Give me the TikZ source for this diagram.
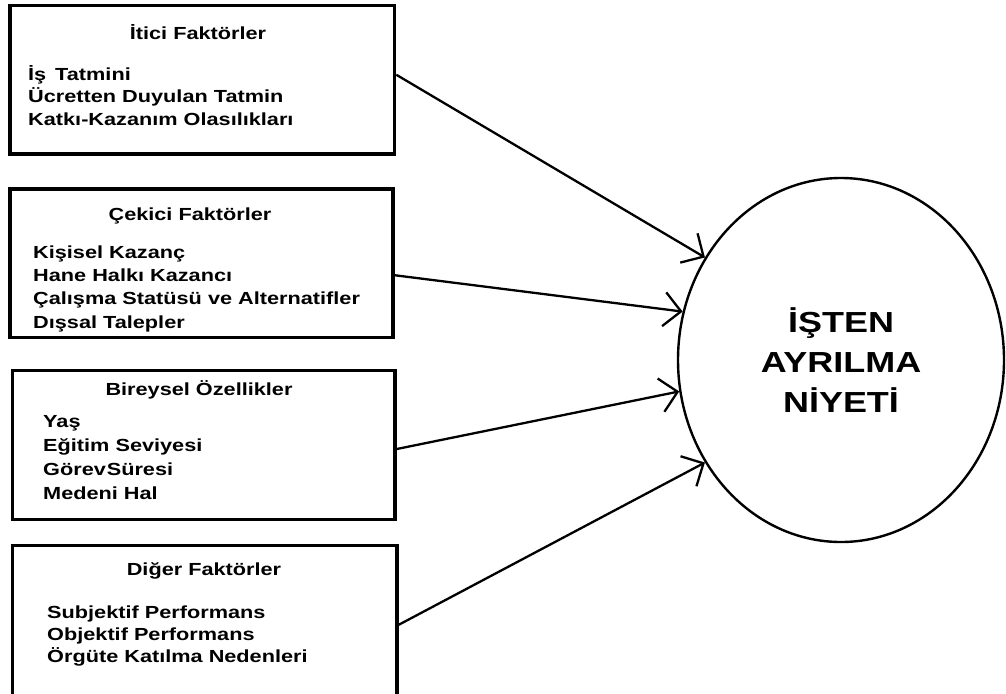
\documentclass[tikz,border=0pt]{standalone}
\usepackage{fontspec}
\setmainfont{Liberation Sans}[FakeStretch=1.24]
\usetikzlibrary{shapes.geometric,arrows.meta}

\begin{document}
\begin{tikzpicture}[x=1pt,y=-1pt,
                kutu/.style={draw, line width=3.6pt, inner sep=0pt},
                baslik/.style={font=\bfseries\fontsize{17.5}{21}\selectfont, inner sep=0pt, anchor=base},
                madde/.style={font=\bfseries\fontsize{17.5}{21}\selectfont, inner sep=0pt, anchor=base west},
                ok/.style={-{Straight Barb[length=17pt,width=34pt]}, line width=2.3pt}]
                \useasboundingbox (0,0) rectangle (1006,693); %page size

                % kutular
                \node[kutu, minimum width=384.5pt, minimum height=148.5pt] (itici) at (202.25,79.75) {};
                \node[kutu, minimum width=383pt, minimum height=148.5pt] (cekici) at (201.5,263.25) {};
                \node[kutu, minimum width=382.5pt, minimum height=149pt] (bireysel) at (203.75,445) {};
                \node[kutu, minimum width=384.5pt, minimum height=154.5pt] (diger) at (204.75,622.75) {};

                % basliklar
                \node[baslik] (itici-b) at (198,40) {İtici Faktörler};
                \node[baslik] (cekici-b) at (190,220) {Çekici Faktörler};
                \node[baslik] (bireysel-b) at (199,395) {Bireysel Özellikler};
                \node[baslik] (diger-b) at (204,575) {Diğer Faktörler};

                % maddeler
                \foreach \t [count=\i] in {İş\, Tatmini, Ücretten Duyulan Tatmin, Katkı-Kazanım Olasılıkları}{
                \node[madde] (itici-\i) at (28,{80+22.5*(\i-1)}) {\t};
                }
                \foreach \t [count=\i] in {Kişisel Kazanç, Hane Halkı Kazancı, Çalışma Statüsü ve Alternatifler, Dışsal Talepler}{
                \node[madde] (cekici-\i) at (33,{258+23.4*(\i-1)}) {\t};
                }
                \foreach \t [count=\i] in {Yaş, Eğitim Seviyesi, Görev\hspace{0.05em}Süresi, Medeni Hal}{
                \node[madde] (bireysel-\i) at (43,{427+24.3*(\i-1)}) {\t};
                }
                \foreach \t [count=\i] in {Subjektif Performans, Objektif Performans, Örgüte Katılma Nedenleri}{
                \node[madde] (diger-\i) at (47,{618+22*(\i-1)}) {\t};
                }

                \node[ellipse, draw, line width=2.4pt, minimum width=326pt, minimum height=364pt, inner sep=0pt,
                      align=center, font=\bfseries\fontsize{29}{40}\selectfont] (niyet) at (841,360) {İŞTEN\\AYRILMA\\NİYETİ};

                % oklar
                \draw[ok] ([yshift=5pt]itici.east) -- (niyet.143.9);
                \draw[ok] ([yshift=-12pt]cekici.east) -- (niyet.163.4);
                \draw[ok] ([yshift=-4pt]bireysel.east) -- (niyet.191.6);
                \draw[ok] ([yshift=-2pt]diger.east) -- (niyet.217.1);
\end{tikzpicture}
\end{document}
